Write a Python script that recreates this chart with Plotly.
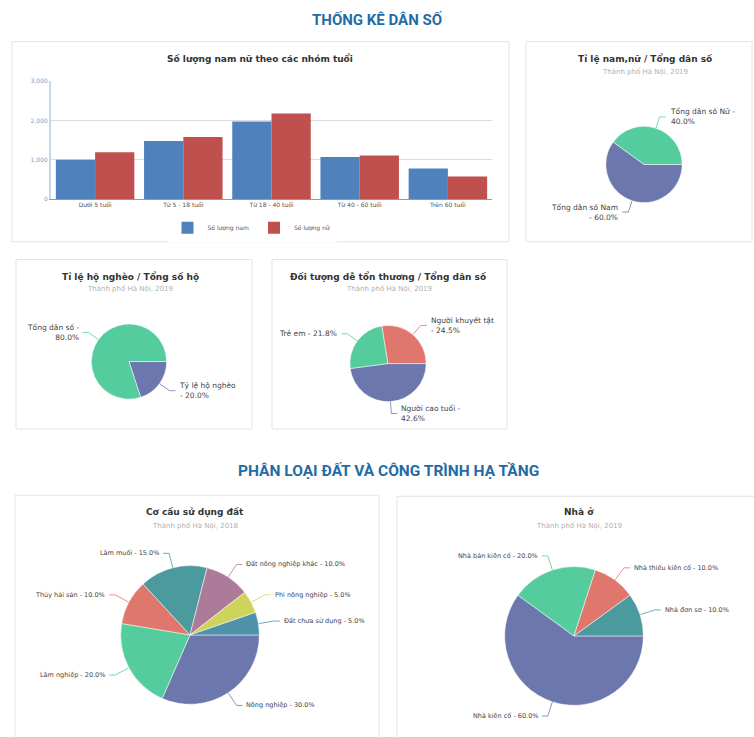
import math
import textwrap
import plotly.graph_objects as go

W, H = 754, 737

# ---------------- data ----------------
age_groups = ["Dưới 5 tuổi", "Từ 5 - 18 tuổi", "Từ 18 - 40 tuổi", "Từ 40 - 60 tuổi", "Trên 60 tuổi"]
male_counts = [1000, 1480, 1975, 1070, 780]
female_counts = [1190, 1580, 2180, 1110, 575]
bar_series_names = ["Số lượng nam", "Số lượng nữ"]
y_ticks = [0, 1000, 2000, 3000]

sex_labels = ["Tổng dân số Nữ", "Tổng dân số Nam"]
sex_values = [40.0, 60.0]

poor_labels = ["Tổng dân số", "Tỷ lệ hộ nghèo"]
poor_values = [80.0, 20.0]

vuln_labels = ["Người khuyết tật", "Trẻ em", "Người cao tuổi"]
vuln_values = [24.5, 21.8, 42.6]

land_labels = ["Đất chưa sử dụng", "Phi nông nghiệp", "Đất nông nghiệp khác", "Làm muối",
               "Thủy hải sản", "Lâm nghiệp", "Nông nghiệp"]
land_values = [5.0, 5.0, 10.0, 15.0, 10.0, 20.0, 30.0]

house_labels = ["Nhà đơn sơ", "Nhà thiếu kiên cố", "Nhà bán kiên cố", "Nhà kiên cố"]
house_values = [10.0, 10.0, 20.0, 60.0]

# ---------------- style ----------------
FONT = "DejaVu Sans"
TFONT = "Roboto"
GREEN, PURPLE, RED, TEAL = "#55cc9d", "#6b77ad", "#e0776c", "#4b9a9d"
MAUVE, YELLOW, STEEL = "#ad7b9a", "#cfd35b", "#4f91a8"
BLUE_T = "#1f6ca6"


def px(x):
    return x / W


def py(y):
    return 1 - y / H


def pie_domain(cx, cy, r):
    return dict(x=[px(cx - r), px(cx + r)], y=[py(cy + r), py(cy - r)])


shapes = []
annotations = []

fig = go.Figure()

# bar chart
fig.add_trace(go.Bar(x=age_groups, y=male_counts, name=bar_series_names[0],
                     marker=dict(color="#4f81bd", line=dict(width=0))))
fig.add_trace(go.Bar(x=age_groups, y=female_counts, name=bar_series_names[1],
                     marker=dict(color="#c0504d", line=dict(width=0))))


def add_pie(labels, values, colors, cx, cy, r, wrap=None, size=7.5, L1=12, L2=6):
    # slices run counter-clockwise from 3 o'clock; drawn clockwise in reverse order
    fig.add_trace(go.Pie(
        labels=labels[::-1], values=values[::-1],
        textinfo="none", sort=False,
        direction="clockwise", rotation=90,
        marker=dict(colors=colors[::-1], line=dict(color="white", width=0.5)),
        domain=pie_domain(cx, cy, r), showlegend=False, hoverinfo="skip",
    ))
    total = sum(values)
    start = 0.0
    for lab, v, col in zip(labels, values, colors):
        span = 360.0 * v / total
        mid = math.radians(start + span / 2)
        start += span
        ux, uy = math.cos(mid), -math.sin(mid)
        x1, y1 = cx + r * ux, cy + r * uy
        x2, y2 = cx + (r + L1) * ux, cy + (r + L1) * uy
        side = 1 if ux >= 0 else -1
        x3, y3 = x2 + side * L2, y2
        shapes.append(dict(type="path", xref="paper", yref="paper",
                           path=f"M {px(x1)},{py(y1)} L {px(x2)},{py(y2)} L {px(x3)},{py(y3)}",
                           line=dict(color=col, width=0.8)))
        s = f"{lab} - {v:.1f}%"
        if wrap:
            s = "<br>".join(textwrap.wrap(s, wrap))
        anchor = "left" if side > 0 else "right"
        annotations.append(dict(xref="paper", yref="paper", x=px(x3 + side * 2), y=py(y3),
                                text=s, showarrow=False, xanchor=anchor, yanchor="middle",
                                align=anchor, font=dict(family=FONT, size=size, color="#444")))


add_pie(sex_labels, sex_values, [GREEN, PURPLE], 644, 162, 38.5, wrap=16)
add_pie(poor_labels, poor_values, [GREEN, PURPLE], 129, 361, 38, wrap=14)
add_pie(vuln_labels, vuln_values, [RED, GREEN, PURPLE], 388, 363, 38.5, wrap=16)
add_pie(land_labels, land_values, [STEEL, YELLOW, MAUVE, TEAL, RED, GREEN, PURPLE], 190, 637, 70,
        size=6.5, L1=15, L2=6)
add_pie(house_labels, house_values, [TEAL, RED, GREEN, PURPLE], 574, 638, 70,
        size=6.5, L1=15, L2=6)

# cards
cards = [(12, 38, 509, 240), (526, 38, 752, 240), (16, 258, 252, 429),
         (272, 258, 507, 429), (15, 496, 379, 745), (397, 497, 760, 745)]
for x0, y0, x1, y1 in cards:
    shapes.append(dict(type="rect", xref="paper", yref="paper",
                       x0=px(x0), x1=px(x1), y0=py(y1), y1=py(y0),
                       line=dict(color="#e4e4e4", width=1), layer="below"))


def text(x, y, s, size, color, bold=False, family=FONT):
    annotations.append(dict(xref="paper", yref="paper", x=px(x), y=py(y), text=f"<b>{s}</b>" if bold else s,
                            showarrow=False, xanchor="center", yanchor="middle",
                            font=dict(family=family, size=size, color=color)))


text(377, 16, "THỐNG KÊ DÂN SỐ", 15, BLUE_T, True, TFONT)
text(388, 471, "PHÂN LOẠI ĐẤT VÀ CÔNG TRÌNH HẠ TẦNG", 15.5, BLUE_T, True, TFONT)

TS, SS = 9, 7
text(260, 55, "Số lượng nam nữ theo các nhóm tuổi", TS, "#333", True)
text(645, 55, "Tỉ lệ nam,nữ / Tổng dân số", TS, "#333", True)
text(645, 69, "Thành phố Hà Nội, 2019", SS, "#b0b0b0")
text(130, 275, "Tỉ lệ hộ nghèo / Tổng số hộ", TS, "#333", True)
text(130, 288, "Thành phố Hà Nội, 2019", SS, "#b0b0b0")
text(389, 275, "Đối tượng dễ tổn thương / Tổng dân số", TS, "#333", True)
text(389, 288, "Thành phố Hà Nội, 2019", SS, "#b0b0b0")
text(195, 513, "Cơ cấu sử dụng đất", TS, "#333", True)
text(195, 527, "Thành phố Hà Nội, 2018", SS, "#b0b0b0")
text(579, 513, "Nhà ở", TS, "#333", True)
text(579, 527, "Thành phố Hà Nội, 2019", SS, "#b0b0b0")

fig.update_layout(
    width=W, height=H, margin=dict(l=0, r=0, t=0, b=0),
    paper_bgcolor="white", plot_bgcolor="white",
    font=dict(family=FONT, color="#444"),
    barmode="group", bargap=0.11, bargroupgap=0,
    xaxis=dict(domain=[px(51), px(492)], showline=True, linecolor="#999", linewidth=1,
               ticks="", tickfont=dict(size=6, color="#555"), fixedrange=True),
    yaxis=dict(domain=[py(197), py(78)], range=[0, 3000], tickvals=y_ticks,
               tickformat=",", showgrid=True, gridcolor="#dcdcdc", zeroline=False,
               showline=True, linecolor="#c5d6ee", linewidth=2,
               tickfont=dict(size=6, color="#7b9bd6"), fixedrange=True),
    legend=dict(orientation="h", x=px(252), xanchor="center", y=py(226), yanchor="middle",
                font=dict(size=6, color="#555"), itemwidth=30, tracegroupgap=0),
    shapes=shapes, annotations=annotations,
)

fig.write_html("out.html", config={"displayModeBar": False},
               post_script="document.body.style.margin='0';document.body.style.overflow='hidden';")
